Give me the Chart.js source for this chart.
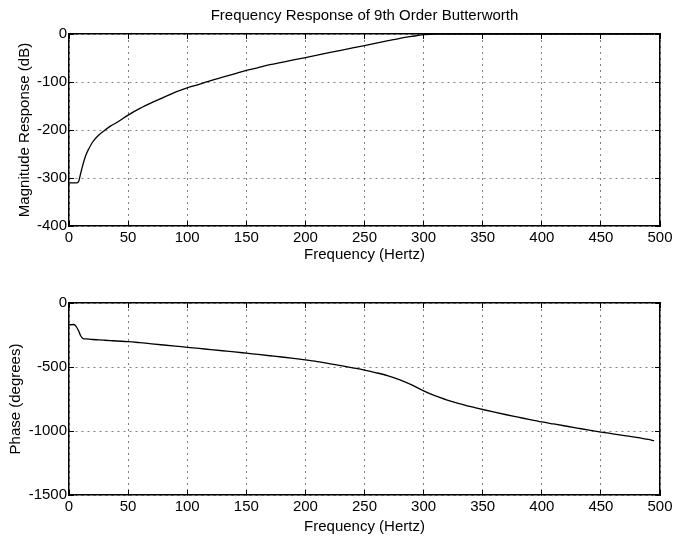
<!DOCTYPE html>
<html>
<head>
<meta charset="utf-8">
<script src="https://cdn.jsdelivr.net/npm/chart.js@4.4.0/dist/chart.umd.min.js"></script>
<style>
  html, body { margin: 0; padding: 0; background: #fff; }
  #wrap { position: relative; width: 676px; height: 536px; }
  canvas { position: absolute; left: 0; }
  #magChart { top: 0; }
  #phaseChart { top: 264px; }
</style>
</head>
<body>
<div id="wrap">
  <canvas id="magChart" width="676" height="264"></canvas>
  <canvas id="phaseChart" width="676" height="272"></canvas>
</div>
<script>
// values
const freqHz = [0, 4, 6, 8, 10, 12, 14, 17, 20, 25, 30, 35, 40, 50, 60, 70, 80, 90, 100,
    110, 120, 130, 140, 150, 160, 170, 180, 190, 200, 210, 220, 230, 240, 250, 260, 270,
    280, 290, 300, 310, 320, 330, 340, 350, 360, 370, 380, 390, 400, 410, 420, 430, 440,
    450, 460, 470, 480, 490, 495];
const magnitudeDb = [-310, -310, -310, -308, -289, -270, -254, -238, -225, -211, -201, -192, -185, -169, -155, -143, -132, -121, -112,
    -105, -97, -90, -83, -76, -70, -64, -59, -54, -49, -44, -39, -34, -29, -24, -19, -14,
    -9, -5, -1.5, 0, 0, 0, 0, 0, 0, 0, 0, 0, 0, 0, 0, 0, 0,
    0, 0, 0, 0, 0, 0];
const phaseDeg = [-171, -168, -182, -215, -258, -278, -280, -282, -285, -288, -291, -294, -297, -302, -310, -319, -328, -337, -346,
    -355, -364, -373, -382, -392, -402, -412, -422, -433, -445, -458, -473, -489, -506, -524, -545, -569,
    -600, -640, -686, -726, -758, -786, -810, -832, -853, -873, -892, -911, -929, -945, -961, -977, -993,
    -1008, -1022, -1036, -1050, -1066, -1076];

const freqTicks = [0, 50, 100, 150, 200, 250, 300, 350, 400, 450, 500];
const magTicks = [-400, -300, -200, -100, 0];
const phaseTicks = [-1500, -1000, -500, 0];

Chart.defaults.font.family = "'Liberation Sans', Arial, Helvetica, sans-serif";
Chart.defaults.font.size = 15;
Chart.defaults.color = "#000";

const gridColor = "rgba(0,0,0,0.5)";

function setTicks(list) {
    return function (axis) {
        axis.ticks = list.map(v => ({ value: v }));
    };
}

// fixed box size, and no extra room asked for overflowing labels
function fixSize(horizontal, size) {
    return function (axis) {
        if (horizontal) axis.height = size; else axis.width = size;
        axis.paddingLeft = 0;
        axis.paddingRight = 0;
        axis.paddingTop = 0;
        axis.paddingBottom = 0;
    };
}

function valueAxis(position, list, title, titlePad, size) {
    const horizontal = position === "bottom";
    return {
        type: "linear",
        position: position,
        min: list[0],
        max: list[list.length - 1],
        afterBuildTicks: setTicks(list),
        afterFit: fixSize(horizontal, size),
        grid: { color: gridColor, drawTicks: true, tickLength: -5, tickColor: "#000", tickBorderDash: [] },
        border: { display: true, color: "#000", width: 1.5, dash: [2, 4] },
        ticks: {
            color: "#000",
            padding: horizontal ? 8 : 7,
            autoSkip: false,
            maxRotation: 0,
            callback: v => String(v)
        },
        title: { display: true, text: title, color: "#000", padding: { top: titlePad, bottom: 0 } }
    };
}

function frameAxis(position, list) {
    const horizontal = position === "top";
    return {
        type: "linear",
        position: position,
        min: list[0],
        max: list[list.length - 1],
        afterBuildTicks: setTicks(list),
        afterFit: fixSize(horizontal, 0),
        grid: { drawOnChartArea: false, drawTicks: true, tickLength: -5, tickColor: "#000", tickBorderDash: [] },
        border: { display: true, color: "#000", width: 1.5 },
        ticks: { display: false }
    };
}

function createPlot(canvasId, values, yTicks, yTitle, yTitlePad, xAxisHeight, topPad, mainTitle) {
    const points = freqHz.map((f, i) => ({ x: f, y: values[i] }));
    return new Chart(document.getElementById(canvasId), {
        type: "line",
        data: {
            datasets: [{
                data: points,
                borderColor: "#000",
                borderWidth: 1.3,
                pointRadius: 0,
                fill: false,
                cubicInterpolationMode: "monotone"
            }]
        },
        options: {
            responsive: false,
            animation: false,
            layout: { padding: { top: topPad, right: 16, bottom: 0, left: 0 } },
            plugins: {
                legend: { display: false },
                tooltip: { enabled: false },
                title: {
                    display: !!mainTitle,
                    text: mainTitle || "",
                    color: "#000",
                    fullSize: false,
                    font: { size: 15, weight: "normal" },
                    padding: { top: 7, bottom: 9 }
                }
            },
            scales: {
                x: valueAxis("bottom", freqTicks, "Frequency (Hertz)", 0, xAxisHeight),
                y: valueAxis("left", yTicks, yTitle, yTitlePad, 69),
                x2: frameAxis("top", freqTicks),
                y2: frameAxis("right", yTicks)
            }
        }
    });
}

createPlot("magChart", magnitudeDb, magTicks, "Magnitude Response (dB)", 16, 38, 0,
    "Frequency Response of 9th Order Butterworth");
createPlot("phaseChart", phaseDeg, phaseTicks, "Phase (degrees)", 7, 41, 39, null);
</script>
</body>
</html>
